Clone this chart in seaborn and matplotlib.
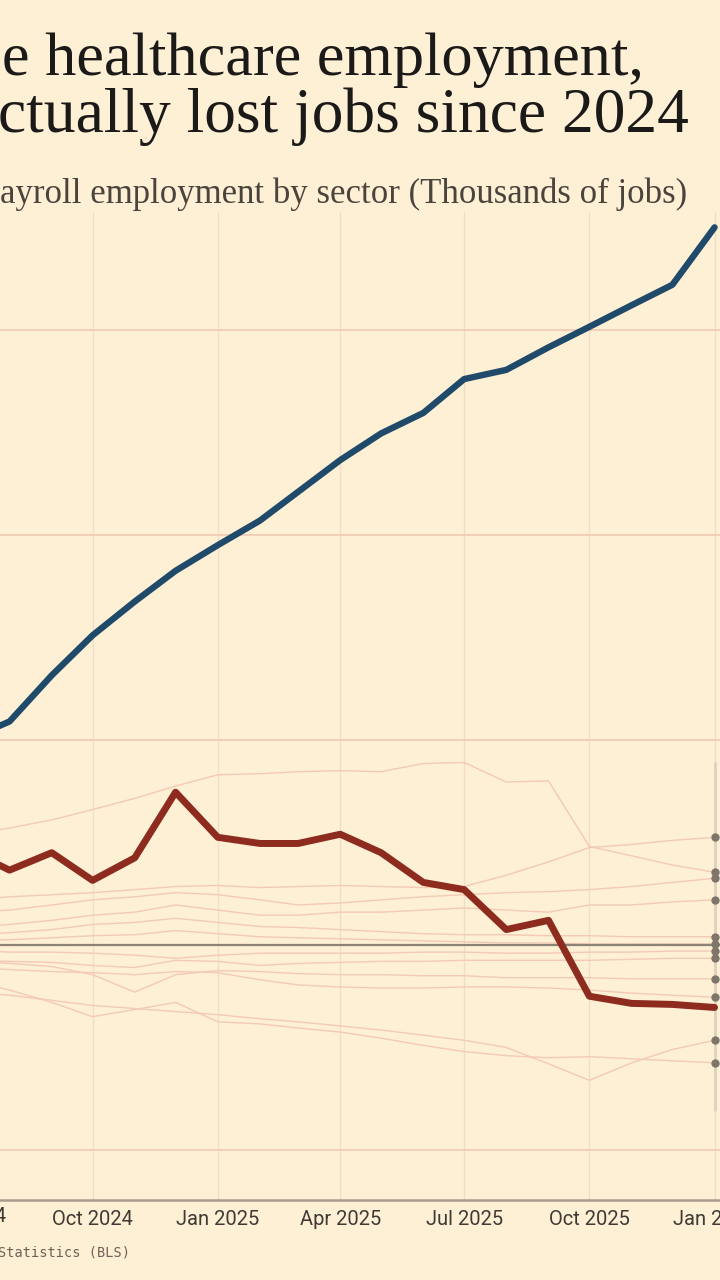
import pandas as pd
import matplotlib
matplotlib.use("Agg")
import matplotlib.pyplot as plt
import matplotlib.dates as mdates
import seaborn as sns

# monthly change in payroll employment since base (thousands of jobs)
months = pd.date_range("2024-07-01", "2026-01-01", freq="MS")
tick_months = months[::3]

healthcare = [200, 218, 263, 302, 335, 365, 390, 414, 442, 473, 499, 519, 552, 561, 583, 603, 624, 644, 700]
highlight = [93, 73, 90, 63, 85, 149, 105, 99, 99, 108, 90, 61, 54, 15, 24, -50, -57, -58, -61]

other_01 = [107, 114, 122, 132, 143, 155, 166, 167, 169, 170, 169, 177, 178, 159, 160, 96, 87, 78, 71]
other_02 = [44, 47, 49, 51, 54, 57, 58, 56, 57, 58, 57, 56, 57, 68, 81, 95, 98, 102, 105]
other_03 = [32, 34, 39, 44, 47, 51, 49, 44, 39, 41, 44, 47, 49, 51, 52, 54, 57, 61, 65]
other_04 = [17, 20, 24, 29, 32, 39, 34, 29, 29, 32, 32, 34, 36, 34, 32, 39, 39, 42, 44]
other_05 = [10, 12, 15, 20, 22, 26, 22, 18, 17, 15, 13, 11, 10, 10, 9, 9, 8, 8, 8]
other_06 = [5, 5, 7, 9, 10, 14, 11, 8, 7, 6, 5, 4, 3, 2, 2, 1, 1, 1, 1]
other_07 = [-5, -7, -7, -8, -10, -13, -10, -8, -8, -8, -8, -7, -7, -8, -8, -7, -7, -6, -6]
other_08 = [-15, -16, -17, -20, -22, -15, -16, -20, -18, -17, -16, -16, -15, -15, -15, -15, -14, -13, -13]
other_09 = [-15, -18, -21, -29, -46, -29, -25, -26, -28, -29, -29, -30, -30, -32, -32, -32, -33, -33, -33]
other_10 = [-22, -24, -26, -27, -29, -26, -27, -34, -39, -41, -42, -42, -41, -41, -42, -44, -47, -49, -51]
other_11 = [-34, -44, -56, -70, -63, -56, -75, -77, -81, -85, -91, -98, -104, -108, -110, -109, -111, -113, -115]
other_12 = [-46, -49, -54, -59, -62, -65, -68, -72, -75, -79, -83, -88, -93, -100, -116, -132, -115, -102, -93]

others = [other_01, other_02, other_03, other_04, other_05, other_06,
          other_07, other_08, other_09, other_10, other_11, other_12]

bg = "#fdf0d5"
faint = pd.concat([pd.DataFrame({"date": months, "value": s, "sector": i})
                   for i, s in enumerate(others)], ignore_index=True)

sns.set_style("white")
fig = plt.figure(figsize=(7.2, 12.8), dpi=100, facecolor=bg)
ax_h = (1200 - 212) / 1280
ax = fig.add_axes([0, 1 - 1200 / 1280, 1, ax_h])
ax.set_facecolor(bg)

sns.lineplot(data=faint, x="date", y="value", units="sector", estimator=None,
             color="#f4c9b5", lw=1.0, ax=ax, zorder=2)
ax.axhline(0, color="#8c8276", lw=1.6, zorder=3)
last = [s[-1] for s in others]
ax.vlines(months[-1], min(min(s) for s in others) - 30, max(max(s) for s in others),
          color="#ddd2c2", lw=2, zorder=2)
ax.scatter([months[-1]] * len(last), last, s=36, color="#7f766b", zorder=4, linewidths=0)
sns.lineplot(x=months, y=highlight, color="#8c2b1e", lw=5, ax=ax, zorder=5)
sns.lineplot(x=months, y=healthcare, color="#1f4a6a", lw=4.6, ax=ax, zorder=6)

tick_style = dict(family="Roboto", fontsize=14.5, color="#3f3a34")
ax.set_yticks([-200, 0, 200, 400, 600])
ax.set_xticks(tick_months)
ax.set_xticklabels([d.strftime("%b %Y") for d in tick_months], **tick_style)
ax.set_xlim(mdates.date2num(pd.Timestamp("2024-07-25")), mdates.date2num(pd.Timestamp("2026-01-05")))
ax.set_ylim(-248.8, 715)
ax.tick_params(axis="x", length=0, pad=7)
ax.tick_params(axis="y", left=False, labelleft=False)
# first quarter label sits left of the visible range, only its tail shows
ax.text(tick_months[0], -7 / (ax_h * 1280), tick_months[0].strftime("%b %Y"),
        transform=ax.get_xaxis_transform(), ha="center", va="top", clip_on=False, **tick_style)
ax.grid(axis="y", color="#f0c6b0", lw=1.1, zorder=1)
ax.grid(axis="x", color="#f3dcc6", lw=0.9, zorder=1)
ax.set_xlabel("")
ax.set_ylabel("")
for side in ["top", "left", "right"]:
    ax.spines[side].set_visible(False)
ax.spines["bottom"].set_color("#a89c8e")
ax.spines["bottom"].set_linewidth(1.8)

t1 = fig.text(2 / 720, 1 - 75 / 1280, "e healthcare employment,", family="Liberation Serif",
              fontsize=44, color="#1b1a18", va="baseline", ha="left")
t2 = fig.text(-2 / 720, 1 - 132 / 1280, "ctually lost jobs since 2024", family="Liberation Serif",
              fontsize=44, color="#1b1a18", va="baseline", ha="left")
t3 = fig.text(0, 1 - 203 / 1280, "ayroll employment by sector (Thousands of jobs)",
              family="Liberation Serif", fontsize=20, color="#4a443d", va="baseline", ha="left")
fig.text(-2 / 720, 1 - 1257 / 1280, "Statistics (BLS)", family="DejaVu Sans Mono",
         fontsize=9.8, color="#6e6358", va="baseline", ha="left")

fig.canvas.draw()
r = fig.canvas.get_renderer()
for t, target in [(t1, 643), (t2, 692), (t3, 685)]:
    w = t.get_window_extent(r).width
    t.set_fontsize(t.get_fontsize() * target / w)

fig.savefig("out.png", dpi=100, facecolor=bg)
